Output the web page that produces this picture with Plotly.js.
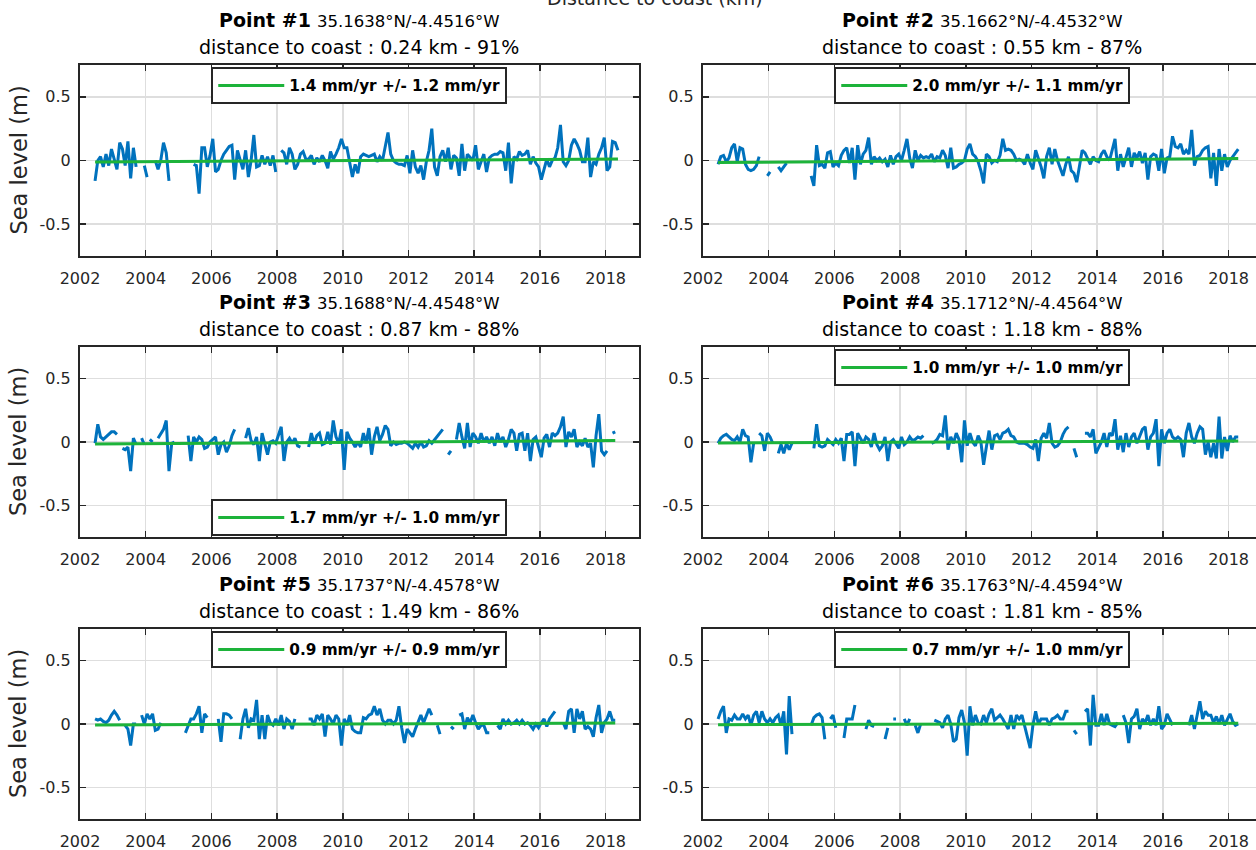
<!DOCTYPE html>
<html><head><meta charset="utf-8">
<script src="https://cdn.plot.ly/plotly-3.0.1.min.js"></script>
<style>html,body{margin:0;padding:0;overflow:hidden;background:#fff}#chart{width:1290px;height:850px}</style>
</head><body><div id="chart"></div>
<script>
// ---------- DATA ----------
const START_YEAR = 2002;
const START_MONTH = 6; // first monthly sample (June 2002)
const xTickVals = [2002, 2004, 2006, 2008, 2010, 2012, 2014, 2016, 2018];
const yTickVals = [-0.5, 0, 0.5];
const yTickText = ['-0.5', '0', '0.5'];
const pointNames = ['Point #1', 'Point #2', 'Point #3', 'Point #4', 'Point #5', 'Point #6'];
const latitudes = ['35.1638', '35.1662', '35.1688', '35.1712', '35.1737', '35.1763'];
const longitudes = ['-4.4516', '-4.4532', '-4.4548', '-4.4564', '-4.4578', '-4.4594'];
const coastDistKm = ['0.24', '0.55', '0.87', '1.18', '1.49', '1.81'];
const validPct = [91, 87, 88, 88, 86, 85];
const trendRate = ['1.4', '2.0', '1.7', '1.0', '0.9', '0.7'];     // mm/yr
const trendError = ['1.2', '1.1', '1.0', '1.0', '0.9', '1.0'];    // mm/yr
const trendOffset = [0.0, 0.0, -0.002, 0.0, 0.0, 0.0];           // m at series mid-point

const seaLevel1 = [
 -0.16,0.0,0.03,-0.05,0.05,-0.04,0.09,0.0,-0.07,0.14,0.09,-0.04,
 0.15,-0.14,0.1,-0.05,null,null,-0.04,-0.13,null,null,0.0,-0.07,
 0.0,0.14,0.06,-0.16,null,null,null,null,null,null,null,null,
 -0.03,-0.04,-0.26,0.1,0.1,-0.05,0.04,0.17,-0.09,-0.07,0.0,0.05,
 0.08,0.11,0.12,-0.15,0.08,0.01,-0.07,0.08,-0.13,0.0,0.2,-0.05,
 -0.04,0.04,-0.03,0.03,-0.04,0.04,-0.09,null,0.08,0.06,-0.03,0.1,
 0.05,-0.07,-0.03,0.05,0.07,0.01,0.01,0.04,-0.03,0.02,-0.01,0.04,
 0.0,-0.06,0.07,0.01,0.05,0.1,0.17,0.1,0.1,-0.01,-0.13,-0.03,
 -0.1,0.03,0.05,0.04,0.03,0.04,0.05,-0.01,0.03,0.0,0.1,0.22,
 0.05,0.0,-0.02,-0.03,-0.03,-0.04,0.04,-0.1,0.08,-0.05,-0.1,-0.04,
 -0.15,-0.01,0.08,0.25,-0.05,-0.12,0.03,0.08,-0.01,0.1,-0.07,0.04,
 0.02,-0.12,0.13,-0.08,0.05,0.02,0.0,0.12,-0.07,-0.01,0.05,-0.09,
 0.02,0.04,0.05,0.05,0.07,0.06,-0.08,0.14,-0.18,0.03,0.01,0.07,
 0.04,0.05,0.08,-0.03,0.03,-0.02,-0.05,-0.15,-0.07,0.01,-0.05,0.0,
 0.02,0.1,0.28,-0.01,-0.04,0.0,0.12,0.17,0.13,0.08,-0.01,-0.01,
 0.18,-0.13,-0.01,-0.03,0.05,0.1,0.18,-0.08,-0.05,0.15,0.14,0.08
];
const seaLevel2 = [
 -0.03,0.03,0.04,-0.01,0.02,0.1,0.13,-0.01,0.1,0.09,-0.03,-0.07,
 -0.08,-0.07,-0.04,0.03,null,null,-0.12,-0.09,null,null,-0.05,-0.08,
 -0.05,-0.02,null,null,null,null,null,null,null,null,-0.12,-0.2,
 0.12,-0.04,-0.03,-0.06,0.06,0.07,-0.05,-0.02,-0.04,0.04,0.08,0.1,
 -0.02,0.1,-0.15,0.12,-0.03,0.05,0.08,0.18,-0.03,0.03,0.0,0.02,
 -0.01,0.01,-0.05,0.04,-0.03,0.03,0.05,0.0,0.08,0.17,0.02,-0.06,
 0.08,0.0,0.04,0.02,0.03,0.02,0.05,-0.01,0.03,0.02,0.08,0.04,
 -0.06,0.1,-0.06,-0.05,-0.03,-0.02,0.0,0.09,0.13,0.05,0.03,-0.01,
 -0.08,-0.18,0.05,0.03,-0.02,0.0,-0.01,0.04,0.17,0.08,0.09,0.08,
 0.05,0.0,0.01,0.0,-0.03,0.05,-0.02,-0.07,0.08,0.02,-0.05,-0.14,
 0.03,0.1,-0.03,0.09,0.0,-0.06,-0.12,-0.03,0.03,-0.08,-0.1,-0.17,
 -0.03,0.08,0.06,0.01,-0.03,0.03,0.0,-0.01,0.05,0.08,0.03,0.0,
 0.08,0.17,-0.08,0.05,-0.05,0.03,0.1,-0.05,0.06,0.02,0.07,-0.02,
 0.06,-0.15,0.03,0.05,0.04,-0.08,0.09,-0.1,0.02,0.03,0.19,0.11,
 0.1,0.13,0.05,0.08,0.05,0.24,-0.04,0.03,0.04,0.08,0.1,0.11,
 -0.14,0.06,-0.2,0.09,-0.08,0.05,-0.05,0.0,0.03,0.06,0.09,null
];
const seaLevel3 = [
 -0.01,0.14,0.04,0.02,0.04,0.06,0.08,0.08,0.06,null,-0.05,-0.06,
 -0.04,-0.23,0.03,-0.02,null,0.03,-0.02,null,0.02,0.0,null,0.03,
 0.07,0.1,0.17,-0.23,-0.01,0.0,null,null,null,null,0.05,-0.15,
 0.04,0.0,0.04,0.02,-0.05,-0.04,0.0,0.02,0.04,-0.1,-0.02,0.0,
 -0.08,-0.03,0.05,0.1,null,null,null,0.03,0.11,0.01,-0.02,0.04,
 -0.15,0.07,-0.01,-0.1,0.0,0.01,-0.01,0.06,0.12,-0.15,0.0,0.03,
 -0.01,0.03,-0.03,-0.04,null,null,-0.04,0.07,-0.01,0.05,0.07,-0.02,
 -0.01,0.08,-0.02,0.17,0.04,-0.01,0.1,-0.22,0.08,0.03,0.0,-0.04,
 0.0,-0.04,0.07,-0.01,0.11,-0.1,0.04,0.12,0.01,0.06,0.13,0.1,
 -0.03,0.0,-0.02,-0.01,-0.01,0.0,-0.01,-0.03,-0.05,-0.01,-0.04,0.0,
 -0.04,-0.03,0.01,-0.01,0.02,0.05,0.08,0.1,null,-0.1,-0.07,null,
 0.02,0.15,0.04,-0.05,0.15,-0.04,0.07,0.04,-0.01,0.07,0.0,0.04,
 -0.01,0.04,-0.03,0.07,0.0,0.04,-0.04,0.02,0.1,0.07,-0.07,0.06,
 0.07,-0.07,0.07,-0.15,0.02,0.04,-0.04,-0.12,0.03,0.06,-0.04,0.07,
 0.05,0.07,0.12,0.2,-0.04,0.08,0.04,0.1,-0.04,0.0,-0.03,0.03,
 -0.04,-0.01,-0.2,0.05,0.22,-0.07,-0.1,-0.07,null,0.07,0.08,null
];
const seaLevel4 = [
 -0.01,0.03,0.05,0.06,0.04,0.02,0.01,0.04,0.0,0.1,0.05,0.04,
 -0.16,-0.01,null,0.07,0.05,-0.07,0.07,0.04,-0.01,null,-0.09,-0.02,
 -0.09,-0.01,-0.06,-0.01,null,null,null,null,null,null,null,-0.05,
 0.14,-0.03,-0.04,-0.03,0.02,0.0,-0.02,0.02,-0.01,0.03,-0.15,0.06,
 0.06,0.08,-0.19,0.07,0.03,-0.01,0.04,0.02,-0.04,0.07,-0.02,-0.06,
 -0.03,0.04,-0.15,0.0,0.02,-0.02,-0.05,0.04,-0.02,0.0,0.04,0.01,
 0.02,0.04,0.03,0.05,null,null,-0.01,0.0,0.02,0.06,0.05,0.21,
 -0.06,0.04,-0.01,0.07,0.02,-0.16,0.17,-0.03,0.07,0.0,-0.03,0.05,
 0.0,-0.18,-0.04,0.09,-0.06,0.05,0.06,0.02,0.07,0.08,0.1,0.05,
 0.04,0.0,-0.01,-0.01,-0.01,-0.02,-0.04,-0.05,0.02,-0.15,0.03,0.07,
 0.03,0.15,-0.01,-0.04,-0.03,0.0,0.06,0.1,0.12,null,-0.05,-0.12,
 null,null,0.07,0.07,0.04,0.1,-0.09,-0.04,0.0,0.07,-0.04,0.07,
 0.05,0.18,-0.06,0.05,-0.08,0.07,-0.04,0.04,0.07,-0.01,0.05,0.1,
 0.12,-0.06,0.04,0.07,0.18,-0.19,0.1,-0.01,0.07,0.1,0.04,0.02,
 0.04,0.02,-0.12,0.07,0.15,0.04,-0.01,0.07,0.12,0.1,-0.1,0.0,
 -0.12,-0.01,-0.13,0.2,-0.13,0.04,-0.07,0.05,0.0,0.04,0.04,null
];
const seaLevel5 = [
 0.04,0.03,0.04,0.02,0.01,0.03,0.07,0.1,0.07,0.03,null,-0.01,
 -0.04,-0.17,0.0,0.0,null,0.07,0.0,0.08,0.04,0.08,-0.05,-0.04,
 0.01,null,null,null,null,null,null,null,null,-0.07,-0.01,0.04,
 0.04,0.08,0.14,-0.07,0.08,0.05,null,null,null,0.04,-0.14,0.08,
 0.08,0.07,0.04,null,null,-0.12,0.04,0.12,-0.03,0.04,0.03,0.19,
 -0.12,0.07,-0.12,0.07,0.01,-0.01,0.04,-0.01,0.07,-0.04,0.04,0.02,
 -0.04,0.04,null,null,null,null,0.04,0.04,-0.01,0.07,0.04,0.08,
 -0.1,0.07,0.04,0.0,0.07,0.04,-0.17,0.04,-0.01,0.07,-0.04,-0.06,
 -0.07,-0.07,0.05,0.04,0.07,0.08,0.14,0.07,0.12,0.03,0.0,0.03,
 0.03,0.0,0.03,0.14,-0.03,-0.15,-0.04,-0.07,-0.1,-0.04,0.01,0.07,
 0.01,0.07,0.12,0.07,null,-0.01,-0.08,null,null,null,-0.02,-0.04,
 null,0.07,0.08,-0.04,0.05,0.01,0.07,0.01,-0.04,-0.01,-0.01,-0.07,
 -0.07,null,null,-0.01,-0.04,0.04,0.0,0.03,0.0,0.01,0.03,0.0,
 0.03,0.0,0.01,-0.01,-0.04,0.0,-0.03,0.01,0.04,-0.02,0.04,0.07,
 0.1,null,null,0.01,-0.04,0.1,0.12,-0.07,0.12,0.04,0.1,-0.04,
 -0.02,-0.04,-0.1,0.05,0.15,-0.07,0.01,0.04,0.1,0.03,0.03,null
];
const seaLevel6 = [
 0.04,0.1,0.14,-0.07,0.04,0.03,0.07,0.04,0.04,0.08,0.04,0.07,
 -0.01,0.07,0.1,0.01,0.1,0.04,0.01,0.04,0.01,0.05,0.07,-0.01,
 0.1,-0.24,0.22,-0.08,null,null,null,null,null,null,-0.01,0.05,
 0.07,0.08,0.05,-0.12,null,0.04,0.07,-0.03,null,null,-0.11,0.04,
 0.04,0.04,0.15,null,null,null,-0.04,0.03,-0.01,-0.02,null,null,
 null,-0.12,-0.03,null,0.04,0.04,null,null,0.04,-0.01,0.04,null,
 -0.01,-0.07,0.0,null,null,null,null,0.03,0.02,0.01,-0.03,0.04,
 0.07,0.0,-0.14,-0.12,0.05,0.11,0.01,-0.25,0.14,-0.01,0.07,0.01,
 0.0,0.07,0.01,0.08,0.12,0.03,0.05,0.07,0.04,0.0,-0.04,0.07,
 -0.04,0.07,0.04,0.07,-0.01,-0.1,-0.19,-0.01,0.1,0.0,0.04,0.04,
 0.04,-0.01,0.04,0.05,0.07,0.04,0.04,0.1,0.1,null,-0.05,-0.08,
 null,null,0.1,0.12,-0.17,0.23,-0.01,-0.01,0.08,-0.01,0.08,0.0,
 -0.01,-0.02,0.01,null,0.07,0.01,-0.15,0.04,0.06,0.12,-0.04,0.04,
 0.01,0.07,-0.01,0.04,-0.01,0.14,-0.04,-0.01,0.08,0.04,-0.01,null,
 null,null,null,null,-0.01,0.07,-0.04,0.08,0.18,0.04,0.1,0.07,
 0.07,0.01,0.06,0.0,0.07,-0.01,0.04,0.08,0.02,-0.01,0.0,null
];
const seaLevels = [seaLevel1, seaLevel2, seaLevel3, seaLevel4, seaLevel5, seaLevel6];

// ---------- LAYOUT GEOMETRY (pixels) ----------
const W = 1290, H = 850;
const colPx = [[80, 638.5], [703, 1261.5]];
const rowPx = [[65, 256], [347, 537], [629, 819]];
const legendAtBottom = [false, false, true, false, false, false];
const FONT = 'DejaVu Sans, Liberation Sans, sans-serif';
const INK = '#262626';

function monthTimes(n) {
  const t = [];
  for (let i = 0; i < n; i++) t.push(START_YEAR + (START_MONTH - 0.5) / 12 + i / 12);
  return t;
}

const traces = [];
const layout = {
  width: W, height: H,
  margin: {l: 0, r: 0, t: 0, b: 0},
  paper_bgcolor: '#fff', plot_bgcolor: '#fff',
  showlegend: true,
  annotations: [],
  font: {family: FONT, color: INK}
};

for (let p = 0; p < 6; p++) {
  const row = Math.floor(p / 2), col = p % 2;
  const ax = p === 0 ? '' : String(p + 1);
  const lg = p === 0 ? 'legend' : 'legend' + (p + 1);
  const vals = seaLevels[p];
  const t = monthTimes(vals.length);
  let first = -1, last = -1;
  vals.forEach((v, i) => { if (v !== null) { if (first < 0) first = i; last = i; } });
  const tMid = (t[first] + t[last]) / 2;
  const rate = parseFloat(trendRate[p]) / 1000;
  const trendX = [t[first], t[last]];
  const trendY = trendX.map(x => trendOffset[p] + rate * (x - tMid));

  traces.push({
    x: t, y: vals, type: 'scatter', mode: 'lines',
    xaxis: 'x' + ax, yaxis: 'y' + ax,
    line: {color: '#0072BD', width: 3},
    connectgaps: false, showlegend: false, hoverinfo: 'skip'
  });
  traces.push({
    x: trendX, y: trendY, type: 'scatter', mode: 'lines',
    xaxis: 'x' + ax, yaxis: 'y' + ax,
    line: {color: '#1db33a', width: 3},
    name: '<b>' + trendRate[p] + ' mm/yr +/- ' + trendError[p] + ' mm/yr</b>',
    legend: lg, showlegend: true, hoverinfo: 'skip'
  });

  const xd = [colPx[col][0] / W, colPx[col][1] / W];
  const yd = [1 - rowPx[row][1] / H, 1 - rowPx[row][0] / H];
  layout['xaxis' + ax] = {
    domain: xd, anchor: 'y' + ax, range: [2002, 2019],
    tickmode: 'array', tickvals: xTickVals, ticktext: xTickVals.map(String),
    ticks: 'inside', ticklen: 6, tickwidth: 1.5, tickcolor: INK,
    showline: true, linecolor: INK, linewidth: 2, mirror: 'ticks',
    showgrid: true, gridcolor: '#dedede', gridwidth: 1.5, zeroline: false,
    tickfont: {family: FONT, size: 16, color: INK}, ticklabelstandoff: 7,
    fixedrange: true
  };
  layout['yaxis' + ax] = {
    domain: yd, anchor: 'x' + ax, range: [-0.75, 0.75],
    tickmode: 'array', tickvals: yTickVals, ticktext: yTickText,
    ticks: 'inside', ticklen: 6, tickwidth: 1.5, tickcolor: INK,
    showline: true, linecolor: INK, linewidth: 2, mirror: 'ticks',
    showgrid: true, gridcolor: '#dedede', gridwidth: 1.5, zeroline: false,
    tickfont: {family: FONT, size: 16, color: INK}, ticklabelstandoff: 4,
    fixedrange: true
  };

  const cx = (colPx[col][0] + colPx[col][1]) / 2 / W;
  layout[lg] = {
    x: cx, xanchor: 'center', xref: 'paper', yref: 'paper',
    y: legendAtBottom[p] ? 1 - (rowPx[row][1] - 1) / H : 1 - (rowPx[row][0] + 2) / H,
    yanchor: legendAtBottom[p] ? 'bottom' : 'top',
    bgcolor: '#ffffff', bordercolor: INK, borderwidth: 2,
    font: {family: FONT, size: 15.3, color: '#000'},
    itemwidth: 66, itemclick: false, itemdoubleclick: false
  };

  // subplot titles
  const topPx = rowPx[row][0];
  layout.annotations.push({
    xref: 'paper', yref: 'paper', x: cx, y: 1 - (topPx - 45) / H,
    xanchor: 'center', yanchor: 'middle', showarrow: false,
    text: '<b>' + pointNames[p] + '</b> <span style="font-size:16.5px">' +
          latitudes[p] + '°N/' + longitudes[p] + '°W</span>',
    font: {family: FONT, size: 19, color: '#000'}
  });
  layout.annotations.push({
    xref: 'paper', yref: 'paper', x: cx, y: 1 - (topPx - 18) / H,
    xanchor: 'center', yanchor: 'middle', showarrow: false,
    text: 'distance to coast : ' + coastDistKm[p] + ' km - ' + validPct[p] + '%',
    font: {family: FONT, size: 19, color: '#000'}
  });
  if (col === 0) {
    layout.annotations.push({
      xref: 'paper', yref: 'paper', x: 18 / W,
      y: 1 - (rowPx[row][0] + rowPx[row][1]) / 2 / H,
      xanchor: 'center', yanchor: 'middle', showarrow: false, textangle: -90,
      text: 'Sea level (m)', font: {family: FONT, size: 22.5, color: INK}
    });
  }
}
layout.annotations.push({
  xref: 'paper', yref: 'paper', x: 655 / W, y: 1 - 11 / H,
  xanchor: 'center', yanchor: 'bottom', showarrow: false,
  text: 'Distance to coast (km)', font: {family: FONT, size: 19, color: INK}
});

Plotly.newPlot('chart', traces, layout, {displayModeBar: false, staticPlot: true});
</script></body></html>
